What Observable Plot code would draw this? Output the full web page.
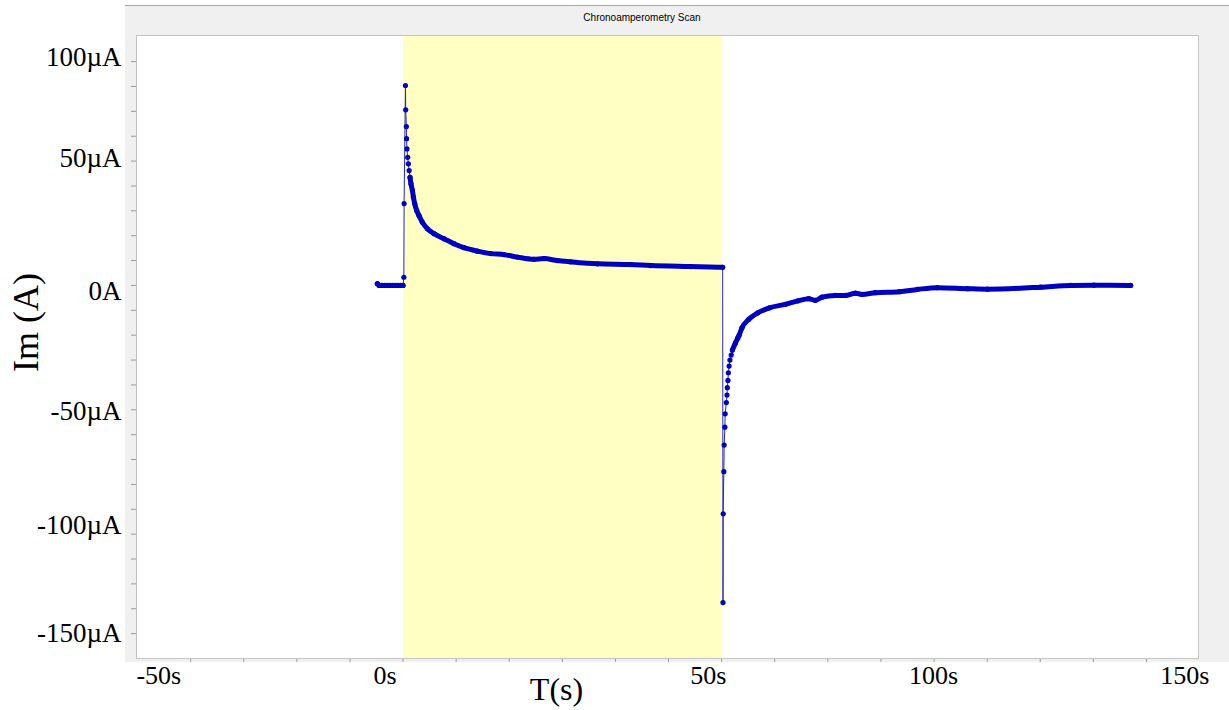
<!DOCTYPE html>
<html>
<head>
<meta charset="utf-8">
<script src="https://cdn.jsdelivr.net/npm/d3@7"></script>
<script src="https://cdn.jsdelivr.net/npm/@observablehq/plot@0.6"></script>
<style>
  html, body { margin: 0; padding: 0; background: #ffffff; overflow: hidden; }
  #wrap { position: relative; width: 1229px; height: 710px; }
  #panel { position: absolute; left: 125px; top: 5px; width: 1104px; height: 657px; background: #f0f0f0; border-top: 1px solid #a6a6a6; box-sizing: border-box; }
  #title { position: absolute; left: 0; width: 1284px; top: 12px; text-align: center; font: 10px "Liberation Sans", Arial, sans-serif; color: #000; }
  #chart { position: absolute; left: 0; top: 0; }
</style>
</head>
<body>
<div id="wrap">
  <div id="panel"></div>
  <div id="title">Chronoamperometry Scan</div>
  <div id="chart"></div>
</div>
<script>
// Time (s)
const time = [
  -4.84, -4.5, -4.0, -3.5, -3.0, -2.5, -2.0, -1.5, -1.0, -0.5, 0.0,
  0.15, 0.2, 0.45, 0.5, 0.62, 0.66, 0.74, 0.87, 1.0, 1.15,
  1.31, 1.49, 1.76, 1.95, 2.19, 2.57, 3.0, 3.64, 4.58, 5.83, 7.7, 9.59, 11.47, 14.0, 16.5, 19.0, 21.52, 24.65, 26.54, 29.06, 31.57, 36.63, 42.87, 46.63, 54.16, 60.19,
  60.25, 60.29, 60.41, 60.47, 60.61, 60.66, 60.88, 61.0, 61.07, 61.18, 61.26, 61.4, 61.56, 61.8,
  62.02, 62.58, 63.02, 63.31, 63.81, 65.11, 66.8, 68.99, 72.0, 74.36, 76.38, 77.65, 78.89, 81.41, 83.29, 85.18, 86.42, 88.95, 93.48, 96.86, 100.63, 106.27, 110.04, 120.08, 125.73, 130.11, 137.03
];
// Current Im (µA)
const current = [
  0.7, 0.0, 0.0, 0.0, 0.0, 0.0, 0.0, 0.0, 0.0, 0.0, 0.0,
  3.3, 32.9, 80.4, 70.6, 63.9, 59.0, 54.9, 51.5, 48.9, 46.2,
  43.5, 40.9, 38.2, 35.5, 32.9, 30.1, 28.1, 25.4, 22.8, 20.8, 18.8, 16.8, 15.2, 13.8, 12.8, 12.4, 11.4, 10.5, 10.8, 10.0, 9.5, 8.7, 8.4, 8.0, 7.6, 7.3,
  -127.5, -91.8, -74.9, -64.2, -57.0, -51.6, -47.1, -44.1, -41.1, -38.2, -35.1, -32.4, -30.0, -28.0,
  -26.0, -23.2, -21.2, -19.9, -17.1, -13.6, -11.0, -9.0, -7.6, -6.2, -5.3, -6.0, -4.7, -4.0, -4.0, -3.1, -3.6, -2.9, -2.5, -1.6, -0.9, -1.3, -1.5, -0.7, 0.0, 0.1, 0.0
];
// Phase of each sample (name, number of samples in order)
const phaseCounts = [["baseline", 11], ["rise", 10], ["decay", 26], ["spike", 14], ["recovery", 27]];
const phase = phaseCounts.flatMap(([p, n]) => Array(n).fill(p));

// Potential step window (s), highlighted
const pulseStart = [0.1];
const pulseEnd = [60.19];

// Axes
const xDomain = [-50.2, 149.8];
const yDomain = [-150.0, 100.5];
const xTicks = [-40, -30, -20, -10, 0, 10, 20, 30, 40, 50, 60, 70, 80, 90, 100, 110, 120, 130, 140];
const yTicks = [-140, -130, -120, -110, -100, -90, -80, -70, -60, -50, -40, -30, -20, -10, 0, 10, 20, 30, 40, 50, 60, 70, 80, 90];
const xLabelText = ["-50s", "0s", "50s", "100s", "150s"];
const xLabelAt = [-46.0, -3.4, 57.5, 99.9, 147.2];
const yLabelText = ["100µA", "50µA", "0A", "-50µA", "-100µA", "-150µA"];
const yLabelAt = [91.8, 51.0, -2.2, -50.6, -96.5, -139.7];

const data = time.map((t, k) => ({t, im: current[k], phase: phase[k]}));
const dense = data.filter(d => d.phase === "baseline" || d.phase === "decay" || d.phase === "recovery");
const pulse = pulseStart.map((s, k) => ({start: s, end: pulseEnd[k]}));

const blue = "#0000c0";
const serif = "'Liberation Serif', 'Times New Roman', serif";

const chart = Plot.plot({
  width: 1229,
  height: 710,
  marginLeft: 136,
  marginRight: 31,
  marginTop: 35,
  marginBottom: 52,
  style: {background: "transparent", color: "#9a9a9a", overflow: "visible"},
  x: {domain: xDomain, ticks: xTicks, tickSize: 4, tickFormat: () => "", label: null},
  y: {domain: yDomain, ticks: yTicks, tickSize: 5, tickFormat: () => "", label: null},
  marks: [
    Plot.frame({fill: "white", stroke: null}),
    Plot.rect(pulse, {x1: "start", x2: "end", y1: yDomain[0], y2: yDomain[1], fill: "#ffffc4"}),
    Plot.line(data, {x: "t", y: "im", stroke: "#2828c4", strokeWidth: 1}),
    Plot.line(dense, {x: "t", y: "im", z: "phase", stroke: blue, strokeWidth: 5, curve: "monotone-x", strokeLinecap: "round"}),
    Plot.dot(data, {x: "t", y: "im", r: 2.6, fill: blue, stroke: null}),
    Plot.frame({stroke: "#c4c4c4"}),
    Plot.text(yLabelText, {y: (d, k) => yLabelAt[k], text: d => d, frameAnchor: "left", dx: -15, textAnchor: "end", fill: "black", fontSize: 27, fontFamily: serif}),
    Plot.text(xLabelText, {x: (d, k) => xLabelAt[k], text: d => d, frameAnchor: "bottom", dy: 25, fill: "black", fontSize: 26, fontFamily: serif}),
    Plot.text(["Im (A)"], {frameAnchor: "left", dx: -110, dy: 25, rotate: -90, fill: "black", fontSize: 36, fontFamily: serif}),
    Plot.text(["T(s)"], {frameAnchor: "bottom", dx: -111, dy: 41, fill: "black", fontSize: 32, fontFamily: serif})
  ]
});
document.getElementById("chart").appendChild(chart);
</script>
</body>
</html>
